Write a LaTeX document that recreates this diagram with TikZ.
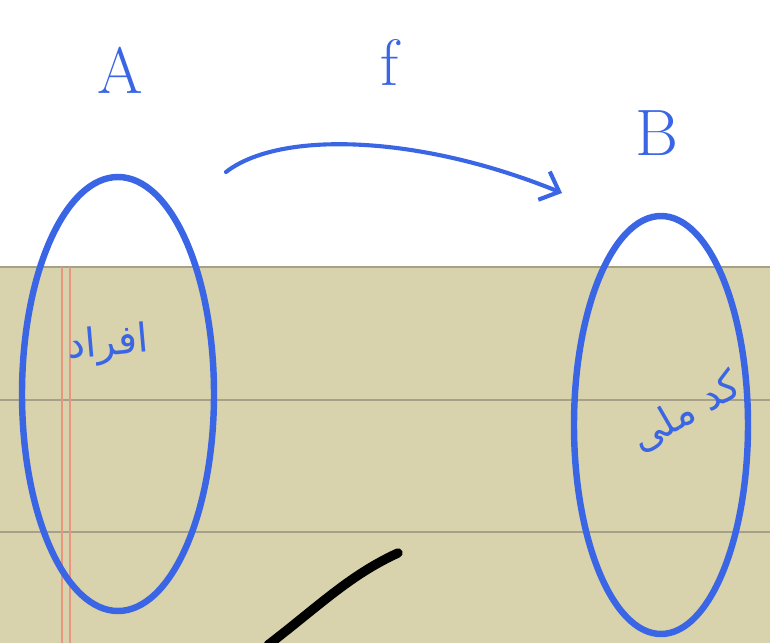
\documentclass[tikz,border=0pt]{standalone}
\usepackage{fontspec}
\usetikzlibrary{arrows.meta}
\TeXXeTstate=1
\newfontfamily\arabicfont[Script=Arabic]{DejaVu Sans}
\definecolor{ink}{RGB}{58,102,230}
\definecolor{paper}{RGB}{216,211,172}
\definecolor{rule}{RGB}{165,160,135}
\definecolor{margin}{RGB}{232,150,125}
\tikzset{
  letter/.style={text=ink, font=\fontsize{56}{56}\selectfont},
  arab/.style={text=ink, font=\arabicfont\fontsize{34}{34}\selectfont, inner sep=0pt},
  maparrow/.style={draw=ink, line width=3.5pt, line cap=round, -{Straight Barb[length=14pt,width=26pt,line width=3.5pt]}}
}
\begin{document}
\begin{tikzpicture}[x=0.03cm,y=-0.03cm]
\useasboundingbox (0,0) rectangle (770,643);
\fill[white] (0,0) rectangle (770,643);
\fill[paper] (0,267) rectangle (770,643);
\draw[rule, line width=1.2pt] (0,267) -- (770,267);
\draw[rule, line width=0.9pt] (0,400) -- (770,400);
\draw[rule, line width=0.9pt] (0,532) -- (770,532);
\draw[margin, line width=1pt] (62,267) -- (62,643);
\draw[margin, line width=1pt] (70,267) -- (70,643);
% sets
\draw[draw=ink, line width=5.5pt] (118,394) ellipse [x radius=96, y radius=217];
\draw[draw=ink, line width=5.5pt] (661,425) ellipse [x radius=87, y radius=209];
% labels
\node[letter] (labA) at (120,70) {A};
\node[letter] (labf) at (390,62) {f};
\node[letter] (labB) at (657,133) {B};
\node[arab, rotate=5] (afrad) at (108,345) {\beginR افراد\endR};
\node[arab, rotate=30] (codemelli) at (686,412) {\beginR کد ملی\endR};
% arrow
\coordinate (fstart) at (226,172);
\coordinate (fend) at (562,193);
\draw[maparrow] (fstart) .. controls (280,130) and (420,135) .. (fend);
% black stroke
\coordinate (s1) at (268,645);
\coordinate (s2) at (398,553);
\draw[black, line width=8pt, line cap=round] (s1) .. controls (320,605) and (350,575) .. (s2);
\end{tikzpicture}
\end{document}
